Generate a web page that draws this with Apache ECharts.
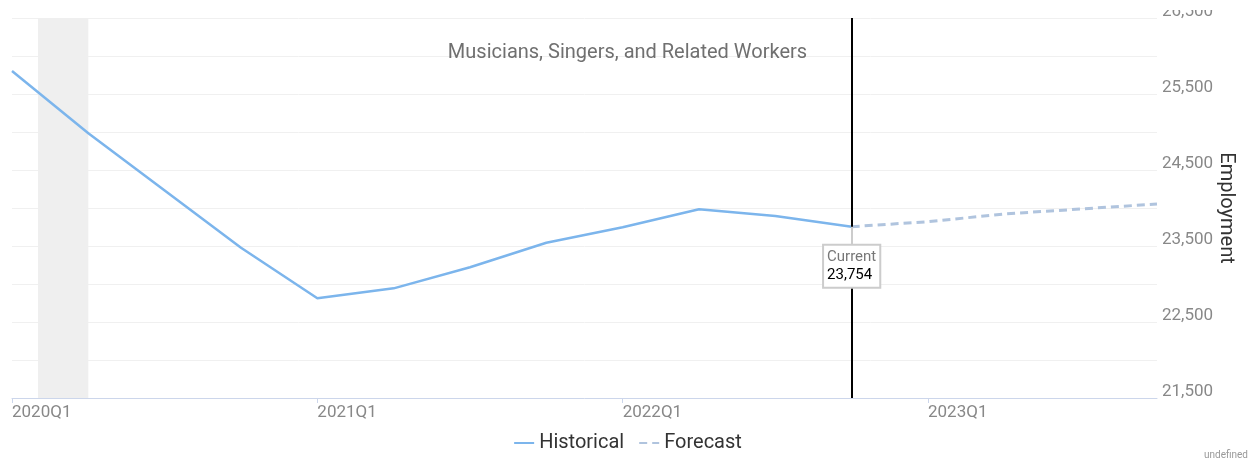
<!DOCTYPE html>
<html>
<head>
<meta charset="utf-8">
<script src="https://cdn.jsdelivr.net/npm/echarts@6/dist/echarts.min.js"></script>
<style>
html,body{margin:0;padding:0;background:#fff;overflow:hidden;}
#w{position:absolute;left:0;top:10px;width:1255px;height:456px;overflow:hidden;}
#c{position:absolute;left:0;top:-18px;width:1255px;height:474px;}
</style>
</head>
<body>
<div id="w"><div id="c"></div></div>
<script>
const quarters = ['2020Q1','2020Q2','2020Q3','2020Q4','2021Q1','2021Q2','2021Q3','2021Q4','2022Q1','2022Q2','2022Q3','2022Q4','2023Q1','2023Q2','2023Q3','2023Q4'];
const historical = [25803, 24983, 24230, 23478, 22812, 22943, 23220, 23543, 23746, 23983, 23895, 23754];
const forecast = [23754, 23820, 23921, 23987, 24053];
const forecastStart = 11;
const currentIndex = 11;
const currentValue = 23754;
const recession = [0.34, 1.0];
const yTicks = [21500, 22500, 23500, 24500, 25500, 26500];
const xTickIdx = [0, 4, 8, 12];

const histData = historical.map((v, i) => [i, v]);
const foreData = forecast.map((v, i) => [forecastStart + i, v]);
const fmt = v => v.toLocaleString('en-US');

const chart = echarts.init(document.getElementById('c'));
chart.setOption({
  animation: false,
  title: [
    { text: 'Musicians, Singers, and Related Workers', left: 'center', top: 46,
      textStyle: { fontFamily: 'Roboto', fontSize: 20, fontWeight: 'normal', color: '#707070' } },
    { text: 'undefined', right: 2, bottom: 1,
      textStyle: { fontFamily: 'Roboto', fontSize: 10, fontWeight: 'normal', color: '#999' } }
  ],
  legend: {
    top: 436, left: 'center', itemWidth: 20, itemHeight: 14, itemGap: 14,
    itemStyle: { opacity: 0 },
    textStyle: { fontFamily: 'Roboto', fontSize: 20, color: '#333' },
    data: ['Historical', 'Forecast']
  },
  grid: { left: 12, right: 98, top: 26, bottom: 68 },
  xAxis: {
    type: 'value', min: 0, max: quarters.length - 1,
    axisLine: { show: true, lineStyle: { color: '#ccd6eb', width: 1 } },
    axisTick: { show: true, length: 5, customValues: xTickIdx, lineStyle: { color: '#ccd6eb' } },
    axisLabel: { customValues: xTickIdx, formatter: v => quarters[v] || '', align: 'left', margin: 6,
      fontFamily: 'Roboto', fontSize: 17, color: '#888' },
    splitLine: { show: false }
  },
  yAxis: {
    type: 'value', position: 'right', min: 21500, max: 26500, interval: 500,
    name: 'Employment', nameLocation: 'middle', nameRotate: -90, nameGap: 59, nameMoveOverlap: false,
    nameTextStyle: { fontFamily: 'Roboto', fontSize: 20, color: '#333' },
    axisLine: { show: false }, axisTick: { show: false },
    axisLabel: { customValues: yTicks, formatter: v => fmt(v), verticalAlign: 'bottom', lineHeight: 13, margin: 5,
      fontFamily: 'Roboto', fontSize: 17, color: '#888' },
    splitLine: { show: true, lineStyle: { color: '#f0f0f0', width: 1 } }
  },
  series: [
    {
      name: 'Historical', type: 'line', data: histData, symbol: 'none', z: 3,
      lineStyle: { color: '#7cb5ec', width: 2.5 }, itemStyle: { color: '#7cb5ec' },
      markArea: { silent: true, itemStyle: { color: '#efefef' },
        data: [[{ xAxis: recession[0] }, { xAxis: recession[1] }]] },
      markLine: { silent: true, symbol: 'none', label: { show: false },
        lineStyle: { color: '#000', width: 2, type: 'solid' },
        data: [{ xAxis: currentIndex }] }
    },
    {
      name: 'Forecast', type: 'line', data: foreData, symbol: 'none', z: 4,
      lineStyle: { color: '#b0c4de', width: 3, type: [8, 5] }, itemStyle: { color: '#b0c4de' },
      markLine: { silent: true, symbol: 'none', label: { show: false },
        lineStyle: { color: '#cccccc', width: 2, type: 'solid' },
        data: [[{ coord: [currentIndex, currentValue] }, { coord: [currentIndex, 23513] }]] },
      markPoint: { silent: true, symbol: 'circle', symbolSize: 0,
        data: [{ coord: [currentIndex, currentValue] }],
        label: { show: true, position: 'bottom', distance: 19,
          formatter: '{a|Current}\n{b|' + fmt(currentValue) + '}',
          backgroundColor: '#fff', borderColor: '#cccccc', borderWidth: 2,
          padding: [3, 3, 2, 3], align: 'center',
          rich: {
            a: { fontFamily: 'Roboto', fontSize: 15, color: '#777', lineHeight: 18, align: 'left' },
            b: { fontFamily: 'Roboto', fontSize: 15, color: '#000', lineHeight: 18, align: 'left' }
          } } }
    }
  ]
});
</script>
</body>
</html>
